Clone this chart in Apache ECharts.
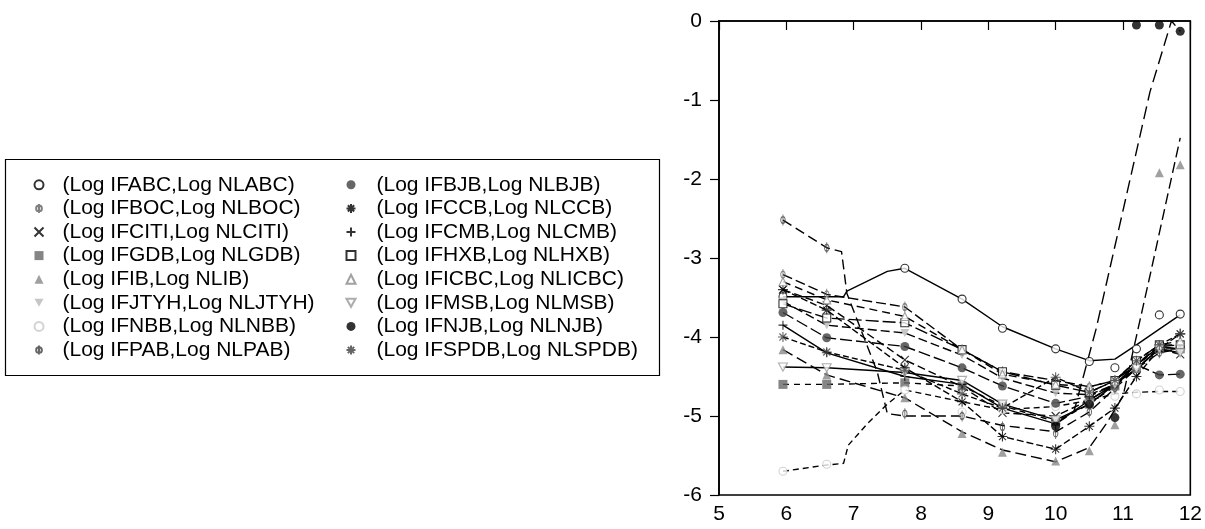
<!DOCTYPE html>
<html>
<head>
<meta charset="utf-8">
<script src="https://cdn.jsdelivr.net/npm/echarts@6/dist/echarts.min.js"></script>
<style>html,body{margin:0;padding:0;background:#fff}#c{width:1205px;height:529px}</style>
</head>
<body>
<div id="c"></div>
<script>
// x positions (Log IF) shared by the scatter columns
const X = [5.95, 6.6, 7.76, 8.61, 9.21, 10.0, 10.5, 10.88, 11.2, 11.54, 11.85];
// Log NL values per bank at the X columns (null = no observation)
const ABC  = [-3.49, null, -3.13, -3.52, -3.89, -4.15, -4.31, -4.39, -4.15, -3.72, -3.71];
const BOC  = [-3.21, -3.46, -3.62, -4.16, -4.44, -4.55, -4.63, -4.55, -4.35, -4.12, -4.10];
const CITI = [-3.40, -3.60, -4.29, -4.63, -4.96, -5.00, -4.80, -4.60, -4.35, -4.15, -4.22];
const GDB  = [-4.60, -4.60, -4.58, -4.62, -4.87, -5.07, -4.85, -4.62, -4.40, -4.15, -4.15];
const IB   = [-4.16, -4.48, -4.77, -5.22, -5.46, -5.57, -5.44, -5.11, null, -1.92, -1.82];
const JTYH = [-3.55, -3.85, -3.95, -4.23, -4.52, -4.71, -4.73, -4.60, -4.40, -4.15, -4.15];
const NBB  = [-5.70, -5.61, -4.67, -4.95, -4.92, -4.88, -4.80, -4.75, -4.72, -4.67, -4.69];
const PAB  = [-2.52, -2.87, -4.97, -5.00, -5.14, -5.22, -4.95, -4.65, -4.40, -4.20, -4.15];
const BJB  = [-3.69, -4.01, -4.12, -4.39, -4.62, -4.84, -4.75, -4.60, -4.35, -4.48, -4.47];
const CCB  = [-3.40, -3.66, -4.39, -4.82, -5.26, -5.42, -5.13, -4.90, -4.50, -4.15, -3.96];
const CMB  = [-3.85, -4.20, -4.50, -4.60, -4.90, -5.10, -4.80, -4.60, -4.35, -4.12, -4.15];
const HXB  = [-3.58, -3.76, -3.82, -4.16, -4.44, -4.61, -4.70, -4.55, -4.30, -4.10, -4.10];
const ICBC = [-3.30, -3.53, -3.74, -4.16, -4.47, -4.60, -4.63, -4.55, -4.35, -4.10, -4.05];
const MSB  = [-4.38, -4.39, -4.45, -4.55, -4.85, -5.05, -4.85, -4.60, -4.40, -4.15, -4.20];
const NJB  = [null, null, null, null, null, -5.13, -4.85, -5.02, -0.05, -0.05, -0.13];
const SPDB = [-4.00, -4.19, -4.42, -4.72, -4.90, -4.51, -4.70, -4.55, -4.30, -4.10, -3.96];

// fitted-curve values where the fit departs from the observations
const ABC_FIT = [[5.95,-3.49],[6.85,-3.49],[6.9,-3.42],[7.5,-3.17],[7.76,-3.13],[8.61,-3.52],[9.21,-3.87],[10.0,-4.15],[10.5,-4.3],[10.88,-4.28],[11.2,-4.1],[11.54,-3.9],[11.85,-3.72]];
const PAB_FIT = [[5.95,-2.52],[6.6,-2.87],[6.82,-2.92],[6.9,-3.45],[7.35,-4.44],[7.5,-4.97],[7.76,-5.0],[8.61,-5.0],[9.21,-5.12],[10.0,-5.2],[10.5,-4.95],[10.88,-4.65],[11.2,-4.4],[11.54,-4.2],[11.85,-4.15]];
const NBB_FIT = [[5.95,-5.70],[6.6,-5.62],[6.85,-5.6],[6.92,-5.37],[7.2,-5.1],[7.5,-4.85],[7.76,-4.67],[8.61,-4.82],[9.21,-4.92],[10.0,-4.88],[10.5,-4.8],[10.88,-4.72],[11.2,-4.7],[11.54,-4.69],[11.85,-4.69]];
const IB_FIT  = [[5.95,-4.16],[6.6,-4.48],[7.76,-4.77],[8.61,-5.2],[9.21,-5.43],[10.0,-5.58],[10.5,-5.4],[10.75,-5.1],[11.0,-4.75],[11.42,-3.15],[11.85,-1.48]];
const NJB_FIT = [[10.0,-5.1],[10.27,-4.95],[10.6,-3.9],[11.0,-2.4],[11.4,-0.9],[11.72,0.0],[11.85,-0.13]];

const X_TICKS = [5, 6, 7, 8, 9, 10, 11, 12];
const Y_TICKS = [-6, -5, -4, -3, -2, -1, 0];

const COL1 = ['ABC','BOC','CITI','GDB','IB','JTYH','NBB','PAB'];
const COL2 = ['BJB','CCB','CMB','HXB','ICBC','MSB','NJB','SPDB'];

const PHI = 'path://M1.5,7a3.5,3.5 0 1,0 7,0a3.5,3.5 0 1,0 -7,0M5,1.5L5,12.5';
const XS = 'path://M0,0L10,10M10,0L0,10';
const PLUS = 'path://M5,0L5,10M0,5L10,5';
const AST = 'path://M5,0L5,10M0,5L10,5M1.5,1.5L8.5,8.5M8.5,1.5L1.5,8.5';
const DTRI = 'path://M0,0L10,0L5,9Z';

function fill(sym, c, size){ return {symbol: sym, size: size||8, style: {color: c}}; }
function stroke(sym, c, size, bg){ return {symbol: sym, size: size||8, style: {color: bg||'none', borderColor: c, borderWidth: 1.1}}; }

const SPEC = {
  ABC:  {v: ABC,  fit: ABC_FIT, m: stroke('circle', '#000', 8, '#fff'), dash: 'solid'},
  BOC:  {v: BOC,  m: stroke(PHI, '#606060', [7,11]), dash: [10,4]},
  CITI: {v: CITI, m: stroke(XS, '#000', 8), dash: [8,4]},
  GDB:  {v: GDB,  m: fill('rect', '#666', 9), dash: [6,5]},
  IB:   {v: IB,   fit: IB_FIT, m: fill('triangle', '#888', 9), dash: [11,5]},
  JTYH: {v: JTYH, m: fill(DTRI, '#b8b8b8', 9), dash: [9,4]},
  NBB:  {v: NBB,  fit: NBB_FIT, m: stroke('circle', '#c8c8c8', 8, '#fff'), dash: [6,4]},
  PAB:  {v: PAB,  fit: PAB_FIT, m: stroke(PHI, '#404040', [7,11]), dash: [10,5]},
  BJB:  {v: BJB,  m: fill('circle', '#404040', 9), dash: [12,4]},
  CCB:  {v: CCB,  m: stroke(AST, '#000', 10), dash: [7,3]},
  CMB:  {v: CMB,  m: stroke(PLUS, '#000', 9), dash: 'solid'},
  HXB:  {v: HXB,  m: stroke('rect', '#000', 8, '#fff'), dash: [13,4]},
  ICBC: {v: ICBC, m: stroke('triangle', '#8a8a8a', 8, '#fff'), dash: [8,5]},
  MSB:  {v: MSB,  m: stroke(DTRI, '#999', 9, '#fff'), dash: 'solid'},
  NJB:  {v: NJB,  fit: NJB_FIT, m: fill('circle', '#000', 9), dash: [13,6]},
  SPDB: {v: SPDB, m: stroke(AST, '#404040', 10), dash: [6,3]}
};

const series = [];
const NAMES = COL1.concat(COL2);
NAMES.forEach(function(n){
  const s = SPEC[n];
  const pts = [];
  X.forEach(function(x, i){ if (s.v[i] !== null) pts.push([x, s.v[i]]); });
  const fitPts = s.fit || pts;
  series.push({
    name: n + '_fit', type: 'line', data: fitPts, symbol: 'none', silent: true, z: 2,
    lineStyle: {color: '#000', width: 1.4, type: s.dash}, animation: false
  });
});
NAMES.forEach(function(n){
  const s = SPEC[n];
  const pts = [];
  X.forEach(function(x, i){ if (s.v[i] !== null) pts.push([x, s.v[i]]); });
  series.push({
    name: n, type: 'scatter', data: pts, symbol: s.m.symbol, symbolSize: s.m.size,
    symbolKeepAspect: true, itemStyle: s.m.style, z: 3, animation: false
  });
});

function legendOf(names, left, pad){
  return {
    data: names, orient: 'vertical', left: left, top: 173, padding: 0,
    itemWidth: 9, itemHeight: 9, itemGap: 0, symbolKeepAspect: true,
    formatter: function(n){ return '(Log IF' + n + ',Log NL' + n + ')'; },
    textStyle: {fontFamily: 'Liberation Sans, Arial, sans-serif', fontSize: 21, color: '#000', lineHeight: 23.6, padding: [0, 0, 0, pad]},
    selectedMode: false
  };
}

const chart = echarts.init(document.getElementById('c'), null, {renderer: 'canvas'});
chart.setOption({
  animation: false,
  backgroundColor: '#fff',
  grid: {left: 719, right: 12, top: 21, bottom: 34, show: true, borderColor: '#000', borderWidth: 1.6, backgroundColor: 'transparent'},
  legend: [legendOf(COL1, 32, 14), legendOf(COL2, 344, 16)],
  graphic: [{type: 'rect', left: 3, top: 157, shape: {width: 654, height: 216}, style: {fill: 'none', stroke: '#000', lineWidth: 1.2}, z: -1}],
  xAxis: {
    type: 'value', min: X_TICKS[0], max: X_TICKS[X_TICKS.length-1], interval: 1,
    axisLine: {show: true, lineStyle: {color: '#000', width: 1.6}},
    axisTick: {show: true, length: 9, lineStyle: {color: '#000', width: 1.2}},
    axisLabel: {margin: 9, fontSize: 21, fontFamily: 'Liberation Sans, Arial, sans-serif', color: '#000'},
    splitLine: {show: false}
  },
  yAxis: {
    type: 'value', min: Y_TICKS[0], max: Y_TICKS[Y_TICKS.length-1], interval: 1,
    axisLine: {show: true, lineStyle: {color: '#000', width: 1.6}},
    axisTick: {show: true, length: 9, lineStyle: {color: '#000', width: 1.2}},
    axisLabel: {margin: 17, fontSize: 21, fontFamily: 'Liberation Sans, Arial, sans-serif', color: '#000'},
    splitLine: {show: false}
  },
  series: series
});
</script>
</body>
</html>
